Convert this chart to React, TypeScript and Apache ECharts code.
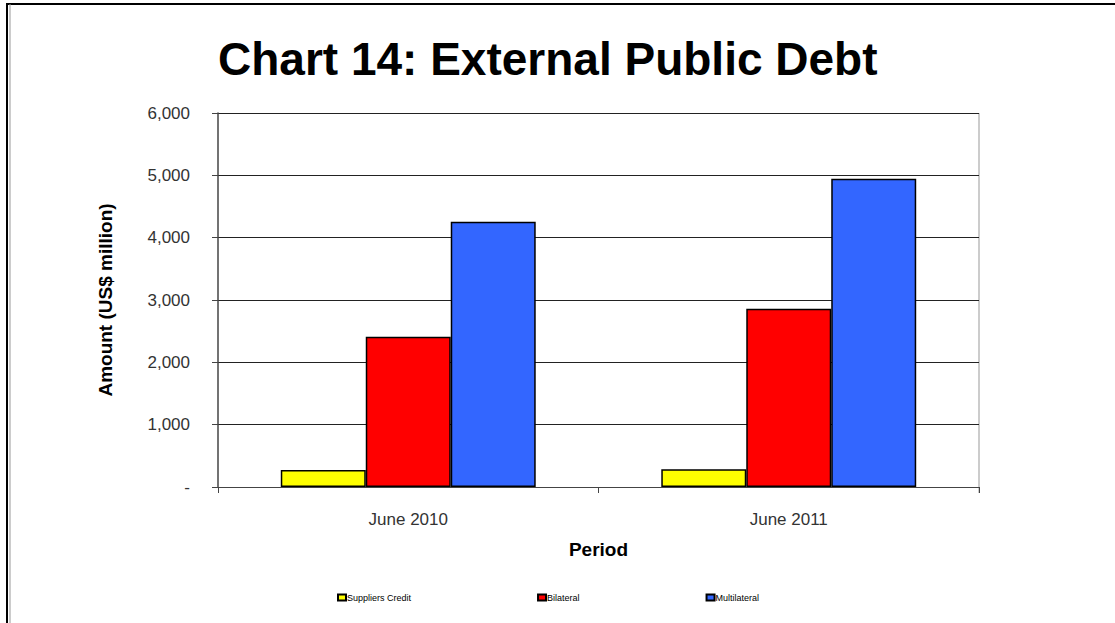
import React, { useEffect, useRef } from "react";
import * as echarts from "echarts";

const categories = ["June 2010", "June 2011"];
const suppliersCredit = [273, 284];
const bilateral = [2411, 2860];
const multilateral = [4257, 4945];
const seriesNames = ["Suppliers Credit", "Bilateral", "Multilateral"];
const seriesColors = ["#FFFF00", "#FF0000", "#3366FF"];

export default function App() {
  const ref = useRef<HTMLDivElement>(null);
  useEffect(() => {
    if (!ref.current) return;
    const chart = echarts.init(ref.current, null, { renderer: "svg" });
    const font = "Liberation Sans, Arial, sans-serif";
    const datasets = [suppliersCredit, bilateral, multilateral];
    chart.setOption({
      animation: false,
      backgroundColor: "#ffffff",
      textStyle: { fontFamily: font },
      title: {
        text: "Chart 14: External Public Debt",
        left: 213,
        top: 31,
        textStyle: { fontSize: 46, fontWeight: "bold", color: "#000", fontFamily: font },
      },
      legend: {
        bottom: 16,
        left: 332,
        itemGap: 126,
        itemWidth: 8,
        itemHeight: 6,
        icon: "rect",
        data: seriesNames,
        textStyle: { fontSize: 9, color: "#000", fontFamily: font, padding: [0, 0, 0, -4] },
        itemStyle: { borderColor: "#000", borderWidth: 2 },
      },
      grid: { left: 218, right: 136, top: 113, bottom: 136 },
      xAxis: {
        type: "category",
        data: categories,
        name: "Period",
        nameLocation: "middle",
        nameGap: 53,
        nameTextStyle: { fontSize: 19, fontWeight: "bold", color: "#000", fontFamily: font },
        axisLine: { lineStyle: { color: "#444", width: 1 } },
        axisTick: { show: true, length: 6, lineStyle: { color: "#444" }, alignWithLabel: false },
        axisLabel: { fontSize: 17, color: "#333", margin: 24, fontFamily: font },
      },
      yAxis: {
        type: "value",
        min: 0,
        max: 6000,
        interval: 1000,
        name: "Amount (US$ million)",
        nameLocation: "middle",
        nameGap: 103,
        nameTextStyle: { fontSize: 19, fontWeight: "bold", color: "#000", fontFamily: font },
        axisLine: { show: true, lineStyle: { color: "#444", width: 1.5 } },
        axisTick: { show: true, length: 6, lineStyle: { color: "#444" } },
        axisLabel: {
          fontSize: 17,
          color: "#333",
          margin: 28,
          fontFamily: font,
          formatter: (v: number) => (v === 0 ? "-" : v.toLocaleString("en-US")),
        },
        splitLine: { show: true, lineStyle: { color: "#222", width: 1 } },
      },
      series: seriesNames.map((name, i) => ({
        name,
        type: "bar",
        data: datasets[i],
        barGap: "0%",
        barCategoryGap: "33%",
        itemStyle: { color: seriesColors[i], borderColor: "#000", borderWidth: 1.5 },
      })),
      graphic: [
        { type: "line", shape: { x1: 6, y1: 4, x2: 1115, y2: 4 }, style: { stroke: "#000", lineWidth: 2 } },
        { type: "line", shape: { x1: 7, y1: 4, x2: 7, y2: 623 }, style: { stroke: "#000", lineWidth: 2 } },
        { type: "line", shape: { x1: 10, y1: 4, x2: 10, y2: 623 }, style: { stroke: "#999", lineWidth: 1 } },
        { type: "line", shape: { x1: 979, y1: 113, x2: 979, y2: 493 }, style: { stroke: "#999", lineWidth: 1 } },
      ],
    });
    return () => chart.dispose();
  }, []);
  return (
    <div
      ref={ref}
      style={{ position: "fixed", left: 0, top: 0, width: 1115, height: 623 }}
    />
  );
}
